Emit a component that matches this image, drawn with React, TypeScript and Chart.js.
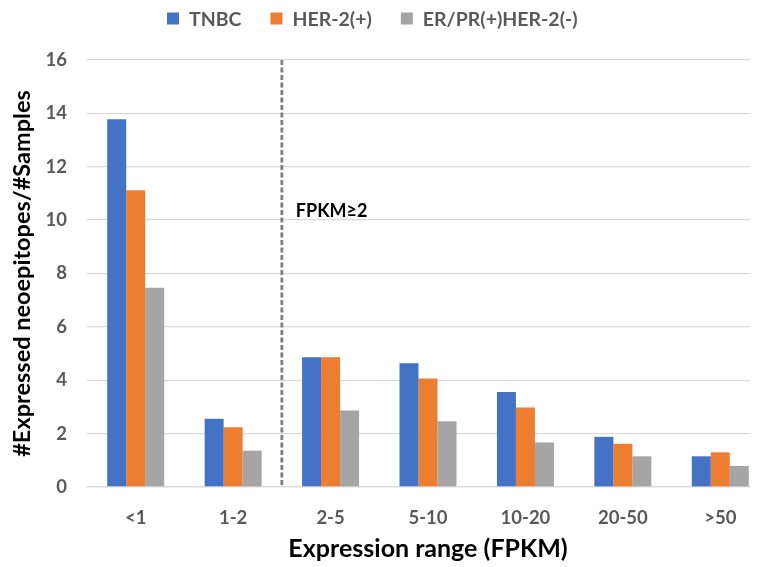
import React, { useEffect, useRef } from "react";
import { Chart, registerables } from "chart.js";

Chart.register(...registerables);

const categories = ["<1", "1-2", "2-5", "5-10", "10-20", "20-50", ">50"];
const seriesNames = ["TNBC", "HER-2(+)", "ER/PR(+)HER-2(-)"];
const tnbcValues = [13.78, 2.56, 4.86, 4.64, 3.56, 1.88, 1.15];
const her2Values = [11.12, 2.24, 4.86, 4.07, 2.98, 1.62, 1.3];
const erprValues = [7.47, 1.36, 2.87, 2.46, 1.67, 1.15, 0.79];
const seriesColors = ["#4472C4", "#ED7D31", "#A5A5A5"];
const yMin = 0;
const yMax = 16;
const yStep = 2;
const yTitle = "#Expressed neoepitopes/#Samples";
const xTitle = "Expression range (FPKM)";
const thresholdLabel = "FPKM≥2";
const thresholdAfterIndex = 1; // dashed line between "1-2" and "2-5"
const thresholdLabelY = 10.35;

const FONT = "Lato, 'Noto Sans', 'DejaVu Sans', sans-serif";

const thresholdPlugin = {
  id: "thresholdLine",
  afterDraw(chart: any) {
    const { ctx, scales } = chart;
    const xs = scales.x;
    const ys = scales.y;
    const x =
      (xs.getPixelForValue(thresholdAfterIndex) + xs.getPixelForValue(thresholdAfterIndex + 1)) / 2;
    ctx.save();
    ctx.strokeStyle = "#7f7f7f";
    ctx.lineWidth = 2.8;
    ctx.setLineDash([5, 2.5]);
    ctx.beginPath();
    ctx.moveTo(x, ys.getPixelForValue(yMax));
    ctx.lineTo(x, ys.getPixelForValue(yMin));
    ctx.stroke();
    ctx.setLineDash([]);
    ctx.fillStyle = "#000000";
    ctx.font = `bold 18px ${FONT}`;
    ctx.textAlign = "left";
    ctx.textBaseline = "middle";
    ctx.fillText(thresholdLabel, x + 14, ys.getPixelForValue(thresholdLabelY));
    ctx.restore();
  },
};

const legendPlugin = {
  id: "customLegend",
  afterDraw(chart: any) {
    const { ctx } = chart;
    ctx.save();
    ctx.font = `bold 19.5px ${FONT}`;
    ctx.textBaseline = "middle";
    ctx.textAlign = "left";
    let x = 159;
    const y = 10.5;
    const box = 12;
    chart.data.datasets.forEach((ds: any) => {
      ctx.fillStyle = ds.backgroundColor;
      ctx.fillRect(x, y - box / 2, box, box);
      x += box + 10;
      ctx.fillStyle = "#595959";
      ctx.fillText(ds.label, x, y + 1);
      x += ctx.measureText(ds.label).width + 29;
    });
    ctx.restore();
  },
};

export default function App() {
  const ref = useRef<HTMLCanvasElement | null>(null);

  useEffect(() => {
    if (!ref.current) return;
    const valueLists = [tnbcValues, her2Values, erprValues];
    const chart = new Chart(ref.current, {
      type: "bar",
      data: {
        labels: categories,
        datasets: seriesNames.map((name, i) => ({
          label: name,
          data: valueLists[i],
          backgroundColor: seriesColors[i],
          borderWidth: 0,
          barPercentage: 1,
          categoryPercentage: 0.585,
        })),
      },
      options: {
        animation: false,
        responsive: true,
        maintainAspectRatio: false,
        layout: { padding: { top: 52, right: 1, left: 0, bottom: 0 } },
        plugins: {
          legend: { display: false },
          tooltip: { enabled: false },
        },
        scales: {
          x: {
            grid: { display: false, drawTicks: false },
            border: { display: true, color: "#d9d9d9", width: 1.3 },
            ticks: {
              color: "#595959",
              font: { family: FONT, size: 18.5, weight: "bold" },
              padding: 20,
              maxRotation: 0,
            },
            title: {
              display: true,
              text: xTitle,
              color: "#000000",
              font: { family: FONT, size: 25, weight: "bold" },
              padding: { top: 0, bottom: 3 },
            },
            afterFit(s: any) {
              s.height = 80;
            },
          },
          y: {
            min: yMin,
            max: yMax,
            ticks: {
              stepSize: yStep,
              color: "#595959",
              font: { family: FONT, size: 18.5, weight: "bold" },
              padding: 20,
            },
            grid: { color: "#d9d9d9", lineWidth: 1.3, drawTicks: false },
            border: { display: false },
            title: {
              display: true,
              text: yTitle,
              color: "#000000",
              font: { family: FONT, size: 23.5, weight: "bold" },
              padding: 0,
            },
            afterFit(s: any) {
              s.width = 79;
            },
          },
        },
      },
      plugins: [thresholdPlugin, legendPlugin],
    });
    return () => chart.destroy();
  }, []);

  return (
    <div style={{ width: 750, height: 559, overflow: "hidden" }}>
      <div style={{ position: "relative", width: 762, height: 559 }}>
        <canvas ref={ref} />
      </div>
    </div>
  );
}
